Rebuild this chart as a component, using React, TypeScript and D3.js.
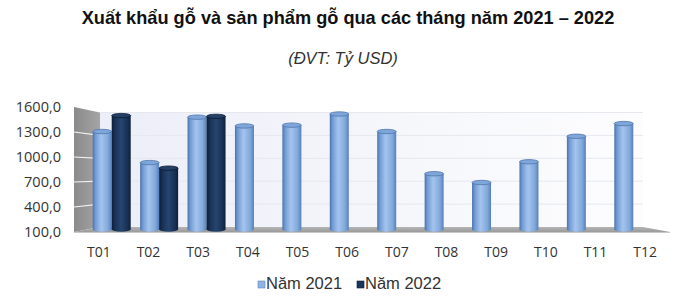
import React from "react";
import * as d3 from "d3";

const months = ["T01","T02","T03","T04","T05","T06","T07","T08","T09","T10","T11","T12"];
const series = ["Năm 2021", "Năm 2022"];
const values2021 = [1330, 940, 1510, 1400, 1410, 1550, 1330, 800, 690, 950, 1270, 1430];
const values2022: (number | null)[] = [1530, 870, 1520, null, null, null, null, null, null, null, null, null];
const yTicks = [100, 400, 700, 1000, 1300, 1600];

const W = 700, H = 302;

export default function App() {
  // front edge, back wall and bar-depth scales (pseudo 3D)
  const yFront = d3.scaleLinear().domain([100, 1600]).range([232, 107]);
  const yBack = d3.scaleLinear().domain([100, 1600]).range([227, 112.5]);
  const yBar = d3.scaleLinear().domain([100, 1600]).range([229.5, 110]);
  const xFront = d3.scaleBand<string>().domain(months).range([74, 670]);
  const xBar = d3.scaleBand<string>().domain(months).range([88, 657]);
  const barW = 19;
  const xSub = d3.scaleBand<string>().domain(series).range([-barW, barW]);
  const backL = 100, backR = 643;
  const fmt = (v: number) => d3.format(".1f")(v).replace(".", ",");
  const colors = ["#8fb4e3", "#17365d"];
  const ry = 2.2;

  const bars: { key: string; x: number; top: number; bottom: number; s: number }[] = [];
  months.forEach((m, i) => {
    const vals = [values2021[i], values2022[i]];
    vals.forEach((v, s) => {
      if (v == null) return;
      bars.push({
        key: m + s,
        x: (xBar(m) as number) + xBar.bandwidth() / 2 + (xSub(series[s]) as number),
        top: yBar(v),
        bottom: yBar(100),
        s,
      });
    });
  });

  return (
    <svg width={W} height={H} style={{ position: "absolute", left: 0, top: 0, background: "#fff" }}>
      <defs>
        <linearGradient id="backwall" x1="0" y1="0" x2="1" y2="0">
          <stop offset="0" stopColor="#eceef8" />
          <stop offset="0.5" stopColor="#f5f6fb" />
          <stop offset="1" stopColor="#fdfdfe" />
        </linearGradient>
        <linearGradient id="sidewall" x1="0" y1="0" x2="1" y2="0">
          <stop offset="0" stopColor="#8a8a8a" />
          <stop offset="1" stopColor="#a5a5a5" />
        </linearGradient>
        <linearGradient id="floor" x1="0" y1="0" x2="0" y2="1">
          <stop offset="0" stopColor="#b5b5b5" />
          <stop offset="1" stopColor="#9a9a9a" />
        </linearGradient>
        <linearGradient id="bar0" x1="0" y1="0" x2="1" y2="0">
          <stop offset="0" stopColor="#4a72ab" />
          <stop offset="0.15" stopColor="#739cd4" />
          <stop offset="0.45" stopColor="#a4c4ee" />
          <stop offset="0.8" stopColor="#82a9da" />
          <stop offset="1" stopColor="#5680bb" />
        </linearGradient>
        <linearGradient id="bar1" x1="0" y1="0" x2="1" y2="0">
          <stop offset="0" stopColor="#0c1e38" />
          <stop offset="0.2" stopColor="#1a3358" />
          <stop offset="0.5" stopColor="#26456f" />
          <stop offset="0.85" stopColor="#172f52" />
          <stop offset="1" stopColor="#0d1f3a" />
        </linearGradient>
      </defs>

      {/* title */}
      <text x={W / 2 - 2} y={24} textAnchor="middle" fontFamily="Liberation Sans, Arial, sans-serif"
        fontWeight="bold" fontSize={18.2} fill="#111">
        Xuất khẩu gỗ và sản phẩm gỗ qua các tháng năm 2021 – 2022
      </text>
      <text x={W / 2 - 7} y={64} textAnchor="middle" fontFamily="Liberation Sans, Arial, sans-serif"
        fontStyle="italic" fontSize={16.5} fill="#333">
        (ĐVT: Tỷ USD)
      </text>

      {/* back wall */}
      <rect x={backL} y={yBack(1600)} width={backR - backL} height={yBack(100) - yBack(1600)} fill="url(#backwall)" />
      {yTicks.slice(1).map((t) => (
        <line key={"g" + t} x1={backL} x2={backR} y1={yBack(t)} y2={yBack(t)} stroke="#e6e8ee" strokeWidth={1} />
      ))}
      {/* left side wall */}
      <polygon
        points={`74,${yFront(1600)} ${backL},${yBack(1600)} ${backL},${yBack(100)} 74,${yFront(100)}`}
        fill="url(#sidewall)"
      />
      {yTicks.slice(1, -1).map((t) => (
        <line key={"s" + t} x1={74} y1={yFront(t)} x2={backL} y2={yBack(t)} stroke="#f2f2f2" strokeWidth={1.2} />
      ))}
      {/* floor */}
      <polygon
        points={`74,${yFront(100)} ${backL},${yBack(100)} ${backR},${yBack(100)} 670,${yFront(100)}`}
        fill="url(#floor)"
      />
      <line x1={74} x2={670} y1={yFront(100) + 0.5} y2={yFront(100) + 0.5} stroke="#c8c8c8" strokeWidth={1} />

      {/* bars */}
      {bars.map((b) => (
        <g key={b.key}>
          <rect x={b.x} y={b.top} width={barW} height={b.bottom - b.top} fill={`url(#bar${b.s})`} />
          <ellipse cx={b.x + barW / 2} cy={b.bottom} rx={barW / 2} ry={ry} fill={`url(#bar${b.s})`} />
          <ellipse cx={b.x + barW / 2} cy={b.top} rx={barW / 2} ry={ry}
            fill={b.s === 0 ? "#7ea6da" : "#233f66"} stroke={b.s === 0 ? "#4f76ac" : "#0b1a30"} strokeWidth={0.8} />
        </g>
      ))}

      {/* y axis labels */}
      {yTicks.map((t) => (
        <text key={"y" + t} x={61} y={yFront(t) + 5} textAnchor="end"
          fontFamily="Open Sans, sans-serif" fontSize={14.5} fill="#333">
          {fmt(t)}
        </text>
      ))}
      {/* x axis labels */}
      {months.map((m) => (
        <text key={m} x={(xFront(m) as number) + xFront.bandwidth() / 2} y={257} textAnchor="middle"
          fontFamily="Open Sans, sans-serif" fontSize={14} fill="#333">
          {m}
        </text>
      ))}

      {/* legend */}
      {series.map((s, i) => {
        const lx = i === 0 ? 258 : 357;
        return (
          <g key={s}>
            <rect x={lx} y={281} width={7} height={7} fill={colors[i]} stroke={i === 0 ? "#5f86bf" : "#0d1f3a"} strokeWidth={0.6} />
            <text x={lx + 8} y={289} fontFamily="Liberation Sans, Arial, sans-serif" fontSize={16.5} fill="#333">
              {s}
            </text>
          </g>
        );
      })}
    </svg>
  );
}
